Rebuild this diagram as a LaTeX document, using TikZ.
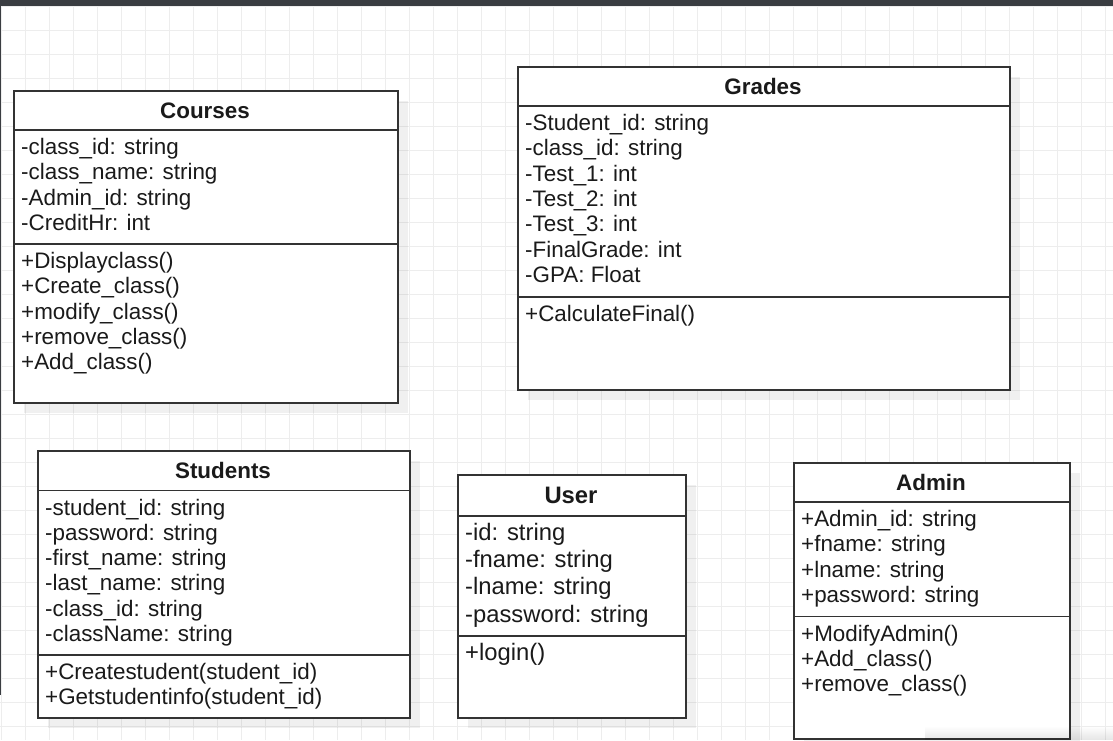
\documentclass[tikz,border=0pt]{standalone}
\usepackage{fontspec}
\setmainfont{Liberation Sans}
\usepackage{tikz}
\usetikzlibrary{calc,shadows,fadings}

\definecolor{gridc}{HTML}{EDEDED}
\definecolor{barc}{HTML}{3A3D41}
\definecolor{linec}{HTML}{333333}
\definecolor{textc}{HTML}{1A1A1A}

\begin{document}
\begin{tikzpicture}[x=1pt,y=-1pt,
        classbox/.style={draw=linec, line width=2pt, fill=white, inner sep=0pt, anchor=north west,
            drop shadow={shadow xshift=10pt, shadow yshift=-10pt, fill=black, opacity=0.06}},
        sepline/.style={draw=linec, line width=1.5pt},
        ctitle/.style={font=\fontsize{22.4}{25.3}\selectfont\bfseries, text=textc, inner sep=0pt, anchor=base},
        member/.style={font=\fontsize{22.4}{25.3}\selectfont, text=textc, inner sep=0pt, anchor=base west},
        bigtitle/.style={ctitle, font=\fontsize{23.8}{27.2}\selectfont\bfseries},
        bigmember/.style={member, font=\fontsize{23.8}{27.2}\selectfont}]
    \useasboundingbox (0,0) rectangle (1113,740);
    % canvas
    \fill[white] (0,0) rectangle (1113,740);
    \foreach \x in {1.7,25.7,...,1113} \draw[gridc, line width=1pt] (\x,0) -- (\x,740);
    \foreach \y in {6.3,30.3,...,740} \draw[gridc, line width=1pt] (0,\y) -- (1113,\y);
    \fill[barc] (0,0) rectangle (1113,5.5);
    \fill[barc] (0,0) rectangle (1.3,695);

    % Courses
    \node[classbox, minimum width=384pt, minimum height=312pt] (courses) at (13,90) {};
    \draw[sepline] (courses.west |- 0,130) -- (courses.east |- 0,130);
    \draw[sepline] (courses.west |- 0,244) -- (courses.east |- 0,244);
    \node[ctitle] (courses-t) at (205,118) {Courses};
    \foreach \t [count=\i from 0] in {-class\_id: string, -class\_name: string, -Admin\_id: string, -CreditHr: int}
        \node[member] (courses-a\i) at (21,154.5+25.3*\i) {\t};
    \foreach \t [count=\i from 0] in {+Displayclass(), +Create\_class(), +modify\_class(), +remove\_class(), +Add\_class()}
        \node[member] (courses-m\i) at (21,268.5+25.3*\i) {\t};

    % Grades
    \node[classbox, minimum width=492pt, minimum height=323pt] (grades) at (517,66) {};
    \draw[sepline] (grades.west |- 0,106) -- (grades.east |- 0,106);
    \draw[sepline] (grades.west |- 0,297) -- (grades.east |- 0,297);
    \node[ctitle] (grades-t) at (763,94) {Grades};
    \foreach \t [count=\i from 0] in {-Student\_id: string, -class\_id: string, -Test\_1: int, -Test\_2: int, -Test\_3: int, -FinalGrade: int, -GPA: Float}
        \node[member] (grades-a\i) at (525,130.5+25.3*\i) {\t};
    \node[member] (grades-m0) at (525,321.5) {+CalculateFinal()};

    % Students
    \node[classbox, minimum width=372pt, minimum height=267pt] (students) at (37,450) {};
    \draw[sepline] (students.west |- 0,490.5) -- (students.east |- 0,490.5);
    \draw[sepline] (students.west |- 0,655) -- (students.east |- 0,655);
    \node[ctitle] (students-t) at (223,478.5) {Students};
    \foreach \t [count=\i from 0] in {-student\_id: string, -password: string, -first\_name: string, -last\_name: string, -class\_id: string, -className: string}
        \node[member] (students-a\i) at (45,515+25.3*\i) {\t};
    \foreach \t [count=\i from 0] in {+Createstudent(student\_id), +Getstudentinfo(student\_id)}
        \node[member] (students-m\i) at (45,679.5+25.3*\i) {\t};

    % User
    \node[classbox, minimum width=228pt, minimum height=243pt] (user) at (457,474) {};
    \draw[sepline] (user.west |- 0,516) -- (user.east |- 0,516);
    \draw[sepline] (user.west |- 0,636) -- (user.east |- 0,636);
    \node[bigtitle] (user-t) at (571,503) {User};
    \foreach \t [count=\i from 0] in {-id: string, -fname: string, -lname: string, -password: string}
        \node[bigmember] (user-a\i) at (465,540.5+27.2*\i) {\t};
    \node[bigmember] (user-m0) at (465,660) {+login()};

    % Admin
    \node[classbox, minimum width=276pt, minimum height=275.5pt] (admin) at (793,462) {};
    \draw[sepline] (admin.west |- 0,502) -- (admin.east |- 0,502);
    \draw[sepline] (admin.west |- 0,616.5) -- (admin.east |- 0,616.5);
    \node[ctitle] (admin-t) at (931,490) {Admin};
    \foreach \t [count=\i from 0] in {+Admin\_id: string, +fname: string, +lname: string, +password: string}
        \node[member] (admin-a\i) at (801,526.5+25.3*\i) {\t};
    \foreach \t [count=\i from 0] in {+ModifyAdmin(), +Add\_class(), +remove\_class()}
        \node[member] (admin-m\i) at (801,641+25.3*\i) {\t};

    % scroll shade, bottom right
    \fill[black, opacity=0.1, path fading=north] (925,726) rectangle (1113,740);
\end{tikzpicture}
\end{document}
